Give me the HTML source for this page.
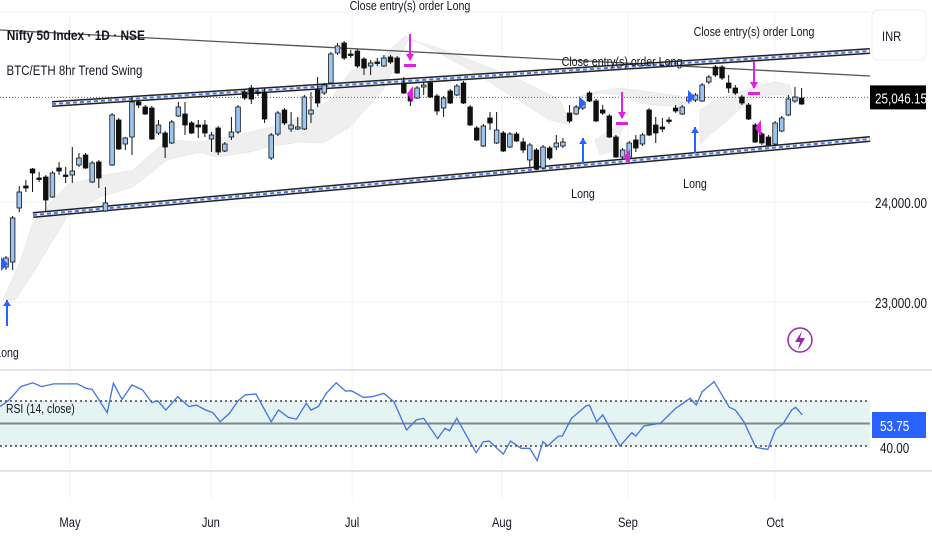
<!DOCTYPE html>
<html><head><meta charset="utf-8"><style>
html,body{margin:0;padding:0;background:#fff;width:932px;height:550px;overflow:hidden;font-family:"Liberation Sans",sans-serif;}
svg{position:absolute;left:0;top:0}
</style></head><body>
<svg id="c" width="932" height="550" viewBox="0 0 932 550"></svg>
<script>
const opens=[23350,23400,23940,24160,24330,24240,24250,24050,24340,24270,24270,24370,24470,24200,24400,23910,24370,24820,24580,24650,25000,24950,24940,24690,24690,24590,24860,24880,24790,24770,24770,24630,24740,24510,24650,24700,25100,25140,25100,25100,24440,24680,24920,24730,24730,24730,24880,25120,25090,25190,25490,25590,25480,25510,25430,25360,25400,25360,25450,25440,25190,25090,25040,25150,25190,25060,24940,25110,25070,25190,24950,24740,24560,24840,24590,24690,24550,24680,24600,24420,24520,24340,24540,24550,24560,24890,24880,24940,25090,25010,24920,24860,24650,24450,24450,24620,24580,24920,24770,24750,24820,24940,24880,25010,25020,25010,25200,25350,25350,25190,25140,25050,24970,24770,24680,24650,24580,24710,24870,25010,25040];
const highs=[23460,23860,24160,24220,24340,24300,24270,24310,24400,24350,24550,24490,24490,24410,24420,24150,24890,24840,24650,25050,25020,24970,24960,24820,24710,24820,25000,25000,24810,24820,24820,24700,24760,24600,24850,24970,25120,25170,25140,25140,24690,24910,24940,24900,24850,25070,25100,25250,25190,25500,25590,25610,25520,25530,25450,25420,25440,25470,25470,25460,25250,25120,25160,25190,25200,25080,25060,25130,25180,25210,24970,24760,24780,24900,24900,24710,24700,24700,24640,24590,24540,24570,24560,24670,24640,24970,24970,25020,25110,25030,24970,24880,24670,24540,24610,24670,24690,24940,24850,24840,24850,24970,24970,25070,25090,25190,25270,25370,25370,25270,25170,25070,24990,24790,24700,24670,24810,24860,25070,25150,25140];
const lows=[23320,23320,23900,24100,24100,24200,23900,24040,24270,24190,24190,24350,24330,24190,24140,23900,24360,24520,24520,24470,24940,24870,24620,24670,24440,24580,24850,24670,24680,24640,24650,24500,24470,24500,24620,24680,25020,24980,25060,24790,24420,24660,24770,24700,24720,24720,24790,24950,25070,25180,25470,25420,25440,25340,25270,25270,25360,25350,25380,25280,25080,24960,25030,25070,25040,24870,24850,24980,25060,24980,24760,24610,24550,24720,24580,24500,24540,24600,24490,24350,24320,24330,24420,24520,24540,24790,24870,24920,25000,24800,24870,24640,24440,24430,24440,24500,24560,24660,24590,24700,24780,24890,24870,24990,25000,25000,25180,25250,25220,25090,25070,24970,24820,24590,24570,24560,24570,24700,24860,24990,24970];
const closes=[23440,23840,24100,24140,24290,24230,24020,24290,24310,24260,24310,24440,24340,24390,24240,23990,24870,24530,24640,25000,24970,24880,24630,24770,24550,24800,24950,24770,24690,24750,24690,24670,24500,24580,24700,24950,25040,25030,25090,24830,24670,24890,24790,24770,24750,25050,24920,24990,25170,25480,25560,25440,25470,25360,25340,25390,25390,25440,25400,25290,25090,25010,25140,25170,25050,24910,25040,24990,25160,24990,24770,24620,24760,24790,24720,24510,24680,24610,24520,24570,24330,24550,24440,24590,24600,24810,24950,25000,25010,24810,24890,24650,24450,24520,24590,24540,24670,24670,24690,24730,24810,24910,24950,25050,25070,25170,25250,25270,25240,25140,25090,24990,24830,24600,24590,24570,24790,24840,25030,25050,24980];
const rsiBars=[-0.9,0.44,2.24,4.03,5.38,7.18,10.77,12.1,13.0,15.26,16.2,17.5,19.0,20.6,22,22.9,24.1,25.9,27.6,28.7,30.1,31.2,32.3,33.7,35,36.1,37.7,40,41.1,42.6,43.8,45.3,46,47.1,48.3,49.8,51.2,52.1,53.9,55.2,57,58.5,60.4,61.9,63,65.1,66.2,66.9,68.0,69.6,70.9,72,72.9,75,76.1,77.7,79,80.1,81,81.7,83.3,83.9,85.3,87.5,88,89.1,90,92.6,94.4,95,96.2,98.7,101,103.2,104.1,105,106.8,109.1,110,111.3,113.1,114.9,116.1,117.2,118.5,119.1,120.1];
const rsiValues=[57.5,60.4,66.4,68.1,66.4,67.6,67.6,65.6,65.2,54.8,67.9,60.7,67.1,64.9,59.3,60.1,56,61.9,57.5,58.2,56,54.8,50.8,54.5,60.1,62.7,63.1,50.8,56,52.7,51.9,59,56,57.5,63.4,68.1,64.4,64.6,61.6,61.9,63.4,59.7,47.1,51.6,52.3,43.3,47.9,46.8,52.3,43.9,37,41.9,42.2,36.4,42.2,39,39,33.5,41.9,40,44.4,44.4,52.3,57.8,58.2,50.8,53.8,40,45.9,44.4,48.9,50.1,56.7,61.2,58.2,64.1,68.6,57.2,56,50.8,39.4,38.5,47.4,49.8,56,57.2,53.8];
const monthNames=["May","Jun","Jul","Aug","Sep","Oct"];
const monthBars=[9.65,30.9,52.2,74.8,93.8,116];
const priceTicks=[24000,23000];
const lastPrice=25046.15;
const rsiBand=[60,50,40];

const NS="http://www.w3.org/2000/svg";
const svg=document.getElementById('c');
const xBar=i=>6+i*6.63;
const yP=p=>202-(p-24000)/10;
const yR=v=>423.5-(v-50)*2.25;
function mk(tag,attrs,parent){const e=document.createElementNS(NS,tag);for(const k in attrs)e.setAttribute(k,attrs[k]);(parent||svg).appendChild(e);return e;}
function txt(x,y,s,attrs,parent){const t=mk('text',Object.assign({x:x,y:y,'font-family':'"Liberation Sans",sans-serif','font-size':12,fill:'#131722'},attrs||{}),parent);t.textContent=s;return t;}

const grid=mk('g',{});


mk('line',{x1:0,y1:12,x2:870,y2:12,stroke:'#eef0f3'},grid);
priceTicks.forEach(p=>mk('line',{x1:0,y1:yP(p),x2:870,y2:yP(p),stroke:'#eef0f3'},grid));
monthBars.forEach(b=>mk('line',{x1:xBar(b),y1:12,x2:xBar(b),y2:500,stroke:'#f3f4f6'},grid));

const shade=mk('g',{fill:'#efefef',stroke:'#e0e0e0','stroke-width':0.5});


mk('polygon',{points:'3,300 20,262 33,222 67,185 100,176 133,170 167,140 200,142 233,136 267,128 300,118 330,100 350,72 383,56 405,36 430,48 470,70 510,95 550,120 570,125 560,100 520,80 470,60 430,45 408,40 383,90 350,127 323,143 300,142 267,147 250,152 217,157 200,152 167,160 133,187 100,197 67,217 33,273 15,300'},shade);
mk('polygon',{points:'575,98 600,93 620,95 640,103 665,106 690,104 680,96 650,92 620,88 595,92'},shade);
mk('polygon',{points:'700,110 720,98 740,92 760,85 775,82 790,85 792,95 770,95 750,100 730,118 710,135 700,145'},shade);
mk('polygon',{points:'595,140 610,130 625,122 615,150 600,155'},shade);

mk('line',{x1:0,y1:30,x2:870,y2:76,stroke:'#555','stroke-width':1.3});
mk('line',{x1:0,y1:yP(lastPrice),x2:870,y2:yP(lastPrice),stroke:'#666','stroke-width':1,'stroke-dasharray':'1,2'});

function channel(x1,y1,x2,y2,name){const g=mk('g',{});


mk('line',{x1,y1,x2,y2,stroke:'#222','stroke-width':6},g);
mk('line',{x1,y1,x2,y2,stroke:'#f4f6fb','stroke-width':3},g);
mk('line',{x1,y1,x2,y2,stroke:'#4a78e0','stroke-width':2,'stroke-dasharray':'4,3'},g);}
channel(52,104,870,51,'upper-channel');
channel(33,215,870,139,'lower-channel');

const cg=mk('g',{});


for(let i=0;i<opens.length;i++){
  const x=xBar(i),up=closes[i]>=opens[i];
  const g=mk('g',{},cg);
  
  
  mk('line',{x1:x,y1:yP(highs[i]),x2:x,y2:yP(lows[i]),stroke:'#111','stroke-width':1},g);
  const t=yP(Math.max(opens[i],closes[i])),b=yP(Math.min(opens[i],closes[i]));
  mk('rect',{x:x-2.3,y:t,width:4.6,height:Math.max(1.5,b-t),fill:up?'#9cc4f0':'#111',stroke:'#111','stroke-width':0.8},g);
}

function upArrow(x,y,label,ly){const g=mk('g',{});


mk('line',{x1:x,y1:y,x2:x,y2:y+26,stroke:'#2962ff','stroke-width':2},g);
mk('polygon',{points:`${x-4},${y+6} ${x},${y} ${x+4},${y+6}`,fill:'#2962ff'},g);
const t=txt(x,ly,label,{'text-anchor':'middle','font-size':13,transform:`translate(${x},0) scale(0.82,1) translate(${-x},0)`},g);
}
upArrow(7,300,'Long',357);
upArrow(583,138,'Long',198);
upArrow(695,127,'Long',188);
function downArrow(x,y,ly){const g=mk('g',{});


mk('line',{x1:x,y1:y,x2:x,y2:y+26,stroke:'#e020e0','stroke-width':2},g);
mk('polygon',{points:`${x-4},${y+20} ${x},${y+27} ${x+4},${y+20}`,fill:'#e020e0'},g);
mk('rect',{x:x-6,y:y+30,width:12,height:3,fill:'#e020e0'},g);
const t=txt(x,ly,'Close entry(s) order Long',{'text-anchor':'middle','font-size':13,transform:`translate(${x},0) scale(0.82,1) translate(${-x},0)`},g);
}
downArrow(410,34,10);
downArrow(622,92,66);
downArrow(754,62,36);
[[410,94],[627,157],[758,128]].forEach(p=>{const t=mk('polygon',{points:`${p[0]+3},${p[1]-8} ${p[0]-3},${p[1]} ${p[0]+3},${p[1]+8}`,fill:'#e020e0'});

});
[[4,264],[582,103],[691,97]].forEach(p=>{const t=mk('polygon',{points:`${p[0]-3},${p[1]-7} ${p[0]+4},${p[1]} ${p[0]-3},${p[1]+7}`,fill:'#2962ff'});

});

const t1=txt(8,40,'Nifty 50 Index · 1D · NSE',{'font-size':14,'font-weight':'bold',transform:'scale(0.85,1)'});


const t2=txt(8,75,'BTC/ETH 8hr Trend Swing',{'font-size':14,transform:'scale(0.82,1)'});



const inr=mk('rect',{x:872,y:10,width:54,height:50,rx:6,fill:'#fff',stroke:'#eceef2'});


txt(882,41,'INR',{'font-size':14,transform:'translate(882,0) scale(0.8,1) translate(-882,0)'});
const lb=mk('rect',{x:870,y:yP(lastPrice)-12,width:56,height:24,fill:'#000'});


txt(875,yP(lastPrice)+6,lastPrice.toLocaleString('en-US',{minimumFractionDigits:2}),{'font-size':15,fill:'#fff',transform:'translate(875,0) scale(0.78,1) translate(-875,0)'});
priceTicks.forEach(p=>{const t=txt(875,yP(p)+6,p.toLocaleString('en-US',{minimumFractionDigits:2}),{'font-size':15,transform:'translate(875,0) scale(0.78,1) translate(-875,0)'});

});

const li=mk('g',{});


mk('circle',{cx:800,cy:340,r:12,fill:'#fff',stroke:'#9c27b0','stroke-width':1.5},li);
mk('polygon',{points:'802,331 795,342 800,342 798,350 805,338 800,338',fill:'#9c27b0'},li);

mk('line',{x1:0,y1:370,x2:932,y2:370,stroke:'#e0e3eb','stroke-width':2});
mk('line',{x1:0,y1:471,x2:932,y2:471,stroke:'#e0e3eb','stroke-width':2});
const bandRect=mk('rect',{x:0,y:yR(rsiBand[0]),width:870,height:yR(rsiBand[2])-yR(rsiBand[0]),fill:'#e6f3f3'});


mk('line',{x1:0,y1:yR(rsiBand[0]),x2:870,y2:yR(rsiBand[0]),stroke:'#222','stroke-width':1.3,'stroke-dasharray':'2,3'});
mk('line',{x1:0,y1:yR(rsiBand[2]),x2:870,y2:yR(rsiBand[2]),stroke:'#222','stroke-width':1.3,'stroke-dasharray':'2,3'});
mk('line',{x1:0,y1:yR(rsiBand[1]),x2:870,y2:yR(rsiBand[1]),stroke:'#7a8a8a','stroke-width':2});
const rl=mk('polyline',{points:rsiBars.map((b,i)=>xBar(b).toFixed(1)+','+yR(rsiValues[i]).toFixed(1)).join(' '),fill:'none',stroke:'#3f74e0','stroke-width':1.3});


const rt=txt(6,413,'RSI (14, close)',{'font-size':13,transform:'translate(6,0) scale(0.8,1) translate(-6,0)'});


const rb=mk('rect',{x:872,y:412,width:54,height:26,fill:'#2962ff'});


txt(880,431,'53.75',{'font-size':15,fill:'#fff',transform:'translate(880,0) scale(0.78,1) translate(-880,0)'});
txt(880,453,rsiBand[2].toFixed(2),{'font-size':15,transform:'translate(880,0) scale(0.78,1) translate(-880,0)'});

monthNames.forEach((m,i)=>{const t=txt(xBar(monthBars[i]),527,m,{'font-size':14,'text-anchor':'middle',transform:`translate(${xBar(monthBars[i])},0) scale(0.8,1) translate(${-xBar(monthBars[i])},0)`});

});
</script>
</body></html>
